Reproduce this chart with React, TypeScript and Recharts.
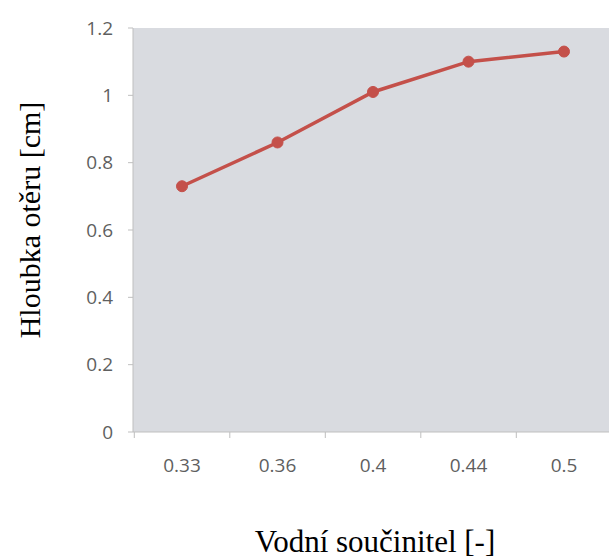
import { CartesianGrid, Label, Line, LineChart, XAxis, YAxis } from "recharts";

const categories = ["0.33", "0.36", "0.4", "0.44", "0.5"];
const depths = [0.73, 0.86, 1.01, 1.1, 1.13];
const yTicks = [0, 0.2, 0.4, 0.6, 0.8, 1, 1.2];

const data = categories.map((c, i) => ({ wc: c, depth: depths[i] }));

const tickFont = "'Open Sans', sans-serif";
const titleFont = "'Liberation Serif', 'Times New Roman', serif";
const axisGray = "#bfbfbf";
const halfBand = 47.7;

// category label centred in its band, tick mark on the band's left edge
function BandTick(props: any) {
  const { x, y, payload } = props;
  return (
    <g>
      <line x1={x - halfBand} x2={x - halfBand} y1={432} y2={438} stroke={axisGray} />
      <text x={x} y={y} dy={22} textAnchor="middle" fontFamily={tickFont} fontSize={19} fill="#5f5f5f">
        {payload.value}
      </text>
    </g>
  );
}

export default function App() {
  return (
    <div style={{ position: "absolute", left: 0, top: 0, width: 609, height: 559, background: "#fff" }}>
      <LineChart width={609} height={559} data={data} margin={{ top: 28, right: 0, bottom: 87, left: 0 }}>
        <CartesianGrid horizontal={false} vertical={false} fill="#d9dbe0" />
        <XAxis
          dataKey="wc"
          height={40}
          padding={{ left: 49, right: 45 }}
          axisLine={{ stroke: axisGray }}
          tickLine={false}
          tickSize={6}
          tickMargin={12}
          tick={<BandTick />}
          interval={0}
        >
          <Label
            content={() => (
              <text x={375} y={552} textAnchor="middle" fontFamily={titleFont} fontSize={31} fill="#000">
                Vodní součinitel [-]
              </text>
            )}
          />
        </XAxis>
        <YAxis
          domain={[0, 1.2]}
          ticks={yTicks}
          width={133}
          tickSize={5}
          tickMargin={15}
          tick={{ fontSize: 19, fill: "#5f5f5f", fontFamily: tickFont }}
          axisLine={{ stroke: axisGray }}
          tickLine={{ stroke: axisGray }}
        >
          <Label
            content={() => (
              <text
                x={40}
                y={220}
                textAnchor="middle"
                transform="rotate(-90 40 220)"
                fontFamily={titleFont}
                fontSize={30}
                fill="#000"
              >
                Hloubka otěru [cm]
              </text>
            )}
          />
        </YAxis>
        <Line
          dataKey="depth"
          stroke="#c4504a"
          strokeWidth={3.5}
          dot={{ r: 5.5, fill: "#c4504a", stroke: "#c4504a", strokeWidth: 1 }}
          isAnimationActive={false}
        />
      </LineChart>
    </div>
  );
}
